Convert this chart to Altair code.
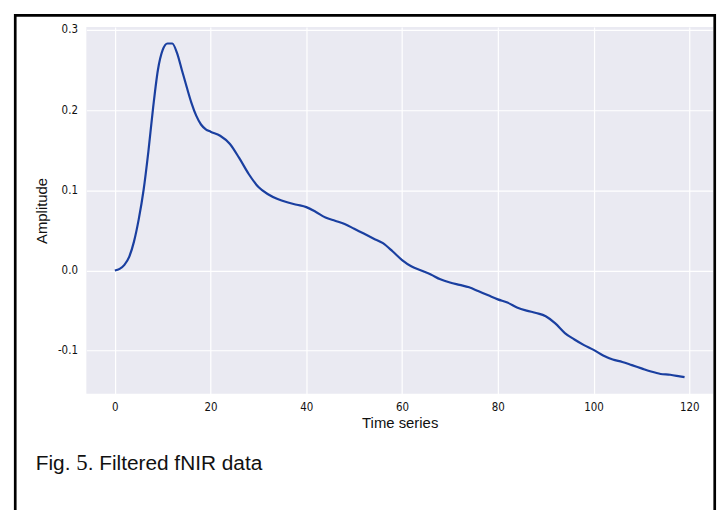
import altair as alt
import pandas as pd

# Data
time_points = [0, 1, 2, 3, 4, 5, 6, 7, 8, 9, 10, 11, 12, 13, 14, 15, 16, 17, 18, 19, 20,
               22, 24, 26, 28, 30, 32, 34, 36, 38, 40, 42, 44, 46, 48, 50, 52, 54, 56, 58,
               60, 62, 64, 66, 68, 70, 72, 74, 76, 78, 80, 82, 84, 86, 88, 90, 92, 94, 96,
               98, 100, 102, 104, 106, 108, 110, 112, 114, 116, 118, 119]
amplitude = [0.000, 0.002, 0.007, 0.017, 0.036, 0.064, 0.100, 0.148, 0.203, 0.250, 0.275,
             0.283, 0.283, 0.271, 0.250, 0.229, 0.209, 0.193, 0.182, 0.176, 0.173,
             0.168, 0.158, 0.140, 0.120, 0.104, 0.095, 0.089, 0.085, 0.082, 0.079, 0.073,
             0.066, 0.062, 0.058, 0.052, 0.046, 0.040, 0.034, 0.024,
             0.013, 0.005, 0.000, -0.005, -0.011, -0.015, -0.018, -0.021, -0.026, -0.031,
             -0.036, -0.040, -0.046, -0.050, -0.053, -0.057, -0.066, -0.078, -0.086,
             -0.093, -0.099, -0.106, -0.111, -0.114, -0.118, -0.122, -0.126, -0.129,
             -0.130, -0.132, -0.133]
x_ticks = [0, 20, 40, 60, 80, 100, 120]
y_ticks = [-0.1, 0.0, 0.1, 0.2, 0.3]
x_title = "Time series"
y_title = "Amplitude"
caption_parts = ["Fig. ", "5", ". Filtered fNIR data"]

df = pd.DataFrame({"t": time_points, "v": amplitude})
one = pd.DataFrame({"k": [0]})

W, H = 632, 370
tick_font = "DejaVu Sans Condensed, Liberation Sans, sans-serif"
fix_minus = "replace(datum.label, '\u2212', '-')"

line = alt.Chart(df).mark_line(
    color="#1a3fa0", strokeWidth=2.2, interpolate="monotone"
).encode(
    x=alt.X("t:Q", scale=alt.Scale(domain=[-5.95, 124.95], nice=False, zero=False),
            axis=alt.Axis(values=x_ticks, title=x_title, format="d",
                          grid=True, gridColor="white", gridWidth=1.2,
                          ticks=False, tickSize=0, domain=False,
                          labelFont=tick_font, labelFontSize=11.5, labelColor="#111",
                          labelPadding=8, titleFont="Liberation Sans",
                          titleFontSize=15, titleFontWeight="normal",
                          titleColor="#111", titlePadding=2)),
    y=alt.Y("v:Q", scale=alt.Scale(domain=[-0.1538, 0.3036], nice=False, zero=False),
            axis=alt.Axis(values=y_ticks, title=y_title, format=".1f",
                          labelExpr=fix_minus,
                          grid=True, gridColor="white", gridWidth=1.2,
                          ticks=False, tickSize=0, domain=False,
                          labelFont=tick_font, labelFontSize=11.5, labelColor="#111",
                          labelPadding=9, titleFont="Liberation Sans",
                          titleFontSize=15, titleFontWeight="normal",
                          titleColor="#111", titlePadding=8)),
)

border = alt.Chart(one).mark_rect(
    fillOpacity=0, stroke="black", strokeWidth=2.7
).encode(
    x=alt.value(-71.7), x2=alt.value(633.7), y=alt.value(-11.7), y2=alt.value(600)
)

cap1 = alt.Chart(one).mark_text(
    text=caption_parts[0], align="left", baseline="alphabetic",
    font="Liberation Sans", fontSize=21, color="#111"
).encode(x=alt.value(-51), y=alt.value(447))
cap2 = alt.Chart(one).mark_text(
    text=caption_parts[1], align="left", baseline="alphabetic",
    font="Liberation Serif", fontSize=23, color="#111"
).encode(x=alt.value(-10.2), y=alt.value(447))
cap3 = alt.Chart(one).mark_text(
    text=caption_parts[2], align="left", baseline="alphabetic",
    font="Liberation Sans", fontSize=21, color="#111"
).encode(x=alt.value(1.3), y=alt.value(447))

chart = alt.layer(line, border, cap1, cap2, cap3).properties(
    width=W, height=H,
    autosize=alt.AutoSizeParams(type="none"),
    padding={"left": 79, "top": 17, "right": 5, "bottom": 115},
    background="white",
).configure_view(fill="#EAEAF2", strokeWidth=0)

chart.save("out.html", embed_options={"renderer": "svg", "actions": False})
